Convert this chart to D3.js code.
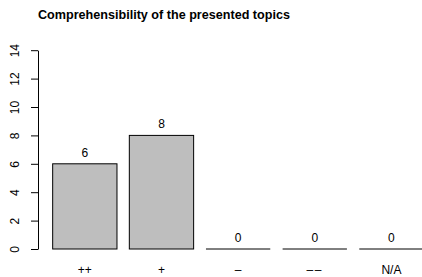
<!DOCTYPE html>
<html><head><meta charset="utf-8">
<script src="https://cdn.jsdelivr.net/npm/d3@7"></script>
<style>
body{margin:0;background:#fff;}
svg{display:block;font-family:"Liberation Sans",Arial,Helvetica,sans-serif;}
</style></head>
<body>
<svg id="chart" width="422" height="277"></svg>
<script>
const title = "Comprehensibility of the presented topics";
const categories = ["++", "+", "\u2013", "\u2013\u2013", "N/A"];
const counts = [6, 8, 0, 0, 0];
const yTicks = [0, 2, 4, 6, 8, 10, 12, 14];

const svg = d3.select("#chart");
const x = d3.scaleBand().domain(categories).range([46.5, 429.75]).paddingInner(0.161).paddingOuter(0.0805);
const y = d3.scaleLinear().domain([0, 14]).range([249, 50.2]);

svg.append("text").attr("x", 38).attr("y", 18.5)
  .attr("font-size", 12.6).attr("font-weight", "bold").attr("fill", "#000").text(title);

const ax = svg.append("g").attr("transform", "translate(38,0)")
  .call(d3.axisLeft(y).tickValues(yTicks).tickSize(7).tickSizeOuter(0).tickFormat(d3.format("d")));
ax.attr("font-family", null);
ax.select(".domain").attr("stroke", "#000");
ax.selectAll(".tick line").attr("stroke", "#000");
ax.selectAll(".tick text").attr("font-size", 12).attr("fill", "#000")
  .attr("x", null)
  .attr("text-anchor", "middle")
  .attr("transform", "translate(-23,0) rotate(-90)")
  .attr("y", 0).attr("dy", "0.35em");

svg.selectAll("rect.bar").data(counts).join("rect").attr("class", "bar")
  .attr("x", (d, i) => x(categories[i]))
  .attr("y", d => y(d))
  .attr("width", x.bandwidth())
  .attr("height", d => y(0) - y(d))
  .attr("fill", "#bebebe").attr("stroke", "#000").attr("stroke-width", 1);

svg.selectAll("line.zero").data(counts.map((d, i) => ({d, c: categories[i]})).filter(o => o.d === 0))
  .join("line").attr("class", "zero")
  .attr("x1", o => x(o.c)).attr("x2", o => x(o.c) + x.bandwidth())
  .attr("y1", o => y(o.d)).attr("y2", o => y(o.d))
  .attr("stroke", "#000").attr("stroke-width", 1);

svg.selectAll("text.val").data(counts).join("text").attr("class", "val")
  .attr("x", (d, i) => x(categories[i]) + x.bandwidth() / 2)
  .attr("y", d => y(d) - 7)
  .attr("text-anchor", "middle").attr("font-size", 12).attr("fill", "#000")
  .text(d => d);

svg.selectAll("text.cat").data(categories).join("text").attr("class", "cat")
  .attr("x", d => x(d) + x.bandwidth() / 2)
  .attr("y", 274.3)
  .attr("text-anchor", "middle").attr("font-size", 12).attr("fill", "#000")
  .attr("letter-spacing", d => d === "\u2013\u2013" ? 1.5 : null)
  .text(d => d);
</script>
</body></html>
